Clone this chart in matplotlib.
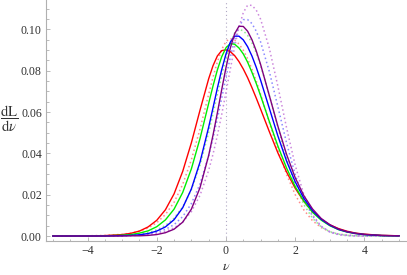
import matplotlib
matplotlib.use("Agg")
import matplotlib.pyplot as plt
from matplotlib.ticker import MultipleLocator

plt.rcParams['font.family'] = ['Liberation Serif', 'DejaVu Serif']
plt.rcParams['mathtext.fontset'] = 'stix'

# --- data ---
nu = [-5, -4, -3.5, -3, -2.75, -2.5, -2.25, -2, -1.75, -1.5, -1.25, -1, -0.75, -0.5,
      -0.375, -0.25, -0.125, 0, 0.125, 0.25, 0.375, 0.5, 0.625, 0.75, 0.875, 1,
      1.25, 1.5, 1.75, 2, 2.25, 2.5, 2.75, 3, 3.25, 3.5, 3.75, 4, 4.5, 5]

red = [0.0000, 0.0000, 0.0002, 0.0007, 0.0013, 0.0024, 0.0044, 0.0076, 0.0127, 0.0204,
       0.0313, 0.0451, 0.0609, 0.0761, 0.0824, 0.0871, 0.0897, 0.0901, 0.0892, 0.0873,
       0.0844, 0.0808, 0.0766, 0.0718, 0.0667, 0.0614, 0.0506, 0.0402, 0.0310, 0.0231,
       0.0168, 0.0118, 0.0081, 0.0054, 0.0036, 0.0023, 0.0014, 0.0009, 0.0003, 0.0001]
green = [0.0000, 0.0000, 0.0001, 0.0004, 0.0007, 0.0014, 0.0025, 0.0045, 0.0078, 0.0130,
         0.0211, 0.0325, 0.0472, 0.0642, 0.0726, 0.0803, 0.0867, 0.0911, 0.0931, 0.0928,
         0.0910, 0.0881, 0.0841, 0.0792, 0.0738, 0.0679, 0.0555, 0.0435, 0.0329, 0.0239,
         0.0169, 0.0115, 0.0077, 0.0050, 0.0031, 0.0019, 0.0012, 0.0007, 0.0002, 0.0001]
blue = [0.0000, 0.0000, 0.0000, 0.0002, 0.0003, 0.0006, 0.0012, 0.0024, 0.0044, 0.0079,
        0.0137, 0.0228, 0.0358, 0.0527, 0.0620, 0.0715, 0.0804, 0.0881, 0.0938, 0.0967,
        0.0967, 0.0949, 0.0916, 0.0871, 0.0816, 0.0754, 0.0619, 0.0484, 0.0363, 0.0262,
        0.0182, 0.0123, 0.0081, 0.0052, 0.0032, 0.0020, 0.0012, 0.0007, 0.0002, 0.0001]
purple = [0.0000, 0.0000, 0.0000, 0.0000, 0.0001, 0.0001, 0.0003, 0.0007, 0.0016, 0.0033,
          0.0067, 0.0130, 0.0234, 0.0390, 0.0488, 0.0595, 0.0707, 0.0815, 0.0909, 0.0979,
          0.1015, 0.1014, 0.0991, 0.0950, 0.0895, 0.0830, 0.0681, 0.0531, 0.0395, 0.0282,
          0.0195, 0.0131, 0.0085, 0.0055, 0.0034, 0.0021, 0.0013, 0.0008, 0.0003, 0.0001]

red_dot = [0.0000, 0.0001, 0.0003, 0.0008, 0.0014, 0.0023, 0.0039, 0.0064, 0.0104, 0.0163,
           0.0250, 0.0369, 0.0518, 0.0686, 0.0768, 0.0842, 0.0902, 0.0942, 0.0955, 0.0948,
           0.0929, 0.0899, 0.0858, 0.0807, 0.0750, 0.0686, 0.0551, 0.0417, 0.0298, 0.0200,
           0.0126, 0.0074, 0.0041, 0.0021, 0.0010, 0.0004, 0.0002, 0.0001, 0.0000, 0.0000]
green_dot = [0.0000, 0.0000, 0.0001, 0.0003, 0.0006, 0.0010, 0.0017, 0.0030, 0.0051, 0.0086,
             0.0141, 0.0224, 0.0344, 0.0501, 0.0591, 0.0684, 0.0777, 0.0862, 0.0933, 0.0982,
             0.1000, 0.0993, 0.0971, 0.0935, 0.0886, 0.0826, 0.0682, 0.0525, 0.0376, 0.0249,
             0.0152, 0.0086, 0.0044, 0.0021, 0.0009, 0.0003, 0.0001, 0.0000, 0.0000, 0.0000]
blue_dot = [0.0000, 0.0000, 0.0001, 0.0002, 0.0003, 0.0006, 0.0010, 0.0018, 0.0032, 0.0055,
            0.0094, 0.0157, 0.0252, 0.0389, 0.0473, 0.0566, 0.0666, 0.0768, 0.0865, 0.0950,
            0.1013, 0.1047, 0.1047, 0.1028, 0.0991, 0.0939, 0.0797, 0.0625, 0.0450, 0.0297,
            0.0178, 0.0096, 0.0047, 0.0020, 0.0008, 0.0003, 0.0001, 0.0000, 0.0000, 0.0000]
purple_dot = [0.0000, 0.0000, 0.0000, 0.0001, 0.0002, 0.0004, 0.0007, 0.0012, 0.0022, 0.0039,
              0.0068, 0.0118, 0.0197, 0.0318, 0.0396, 0.0486, 0.0587, 0.0696, 0.0808, 0.0916,
              0.1010, 0.1081, 0.1117, 0.1116, 0.1093, 0.1049, 0.0910, 0.0724, 0.0524, 0.0342,
              0.0200, 0.0103, 0.0047, 0.0019, 0.0006, 0.0002, 0.0000, 0.0000, 0.0000, 0.0000]

# --- plot ---
fig = plt.figure(figsize=(4.07, 2.75), dpi=100)
ax = fig.add_axes([0.113, 0.1247, 0.8845, 0.8753])

ax.axvline(0, color='#b0a8c4', ls=(0, (1, 2.5)), lw=0.8, zorder=1)

dot = (0, (1, 1.8))
ax.plot(nu, red_dot, color='#ff8a8a', ls=dot, lw=1.1)
ax.plot(nu, green_dot, color='#8aee8a', ls=dot, lw=1.1)
ax.plot(nu, blue_dot, color='#8a8aff', ls=dot, lw=1.1)
ax.plot(nu, purple_dot, color='#cc88dd', ls=dot, lw=1.1)

ax.plot(nu, red, color='#ff0000', lw=1.0)
ax.plot(nu, green, color='#00ee00', lw=1.0)
ax.plot(nu, blue, color='#0000ff', lw=1.0)
ax.plot(nu, purple, color='#800080', lw=1.0)

ax.set_xlim(-5.2, 5.2)
ax.set_ylim(-0.00227, 0.1142)

ax.xaxis.set_major_locator(MultipleLocator(2))
ax.xaxis.set_minor_locator(MultipleLocator(0.5))
ax.yaxis.set_major_locator(MultipleLocator(0.02))
ax.yaxis.set_minor_locator(MultipleLocator(0.005))
ax.yaxis.set_major_formatter(lambda v, p: f"{v:.2f}")

for s in ['top', 'right']:
    ax.spines[s].set_visible(False)
for s in ['left', 'bottom']:
    ax.spines[s].set_color('#b0b0b0')
    ax.spines[s].set_linewidth(0.8)

ax.tick_params(which='both', direction='in', color='#b0b0b0', width=0.6,
               labelsize=8.6, labelcolor='#333333')
ax.tick_params(which='major', length=3.2, pad=3)
ax.tick_params(which='minor', length=1.8)

fig.text(226 / 407, 1 - 267 / 275, r'$\nu$', ha='center', va='center', fontsize=10, color='#333333')
fig.text(9 / 407, 1 - 119 / 275, r'$\dfrac{\mathrm{dL}}{\mathrm{d}\nu}$', ha='center', va='center',
         fontsize=10.5, color='#333333')

fig.savefig("out.png", dpi=100)
plt.close(fig)
